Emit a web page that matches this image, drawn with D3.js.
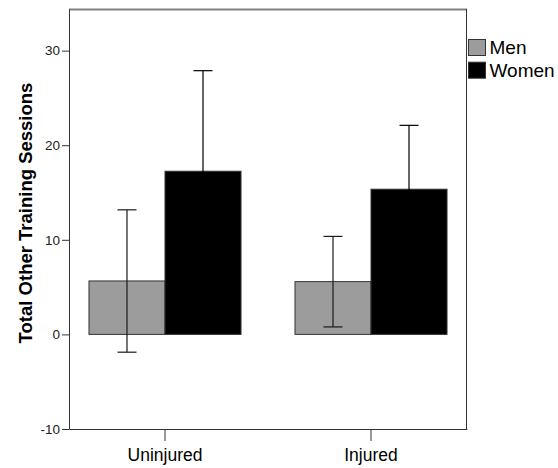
<!DOCTYPE html>
<html>
<head>
<meta charset="utf-8">
<script src="https://cdn.jsdelivr.net/npm/d3@7"></script>
<style>
  body { margin: 0; background: #fff; }
  text { font-family: "Liberation Sans", Arial, sans-serif; }
</style>
</head>
<body>
<div id="chart"></div>
<script>
// values
const categories = ["Uninjured", "Injured"];
const groups = ["Men", "Women"];
const means = [[5.65, 17.25], [5.58, 15.35]];
const errLow = [[-1.88, 6.6], [0.79, 8.6]];
const errHigh = [[13.17, 27.88], [10.36, 22.1]];
const yTicks = [-10, 0, 10, 20, 30];
const colors = { Men: "#9c9c9c", Women: "#000000" };

const width = 558, height = 468;
const plotLeft = 69, plotRight = 467, plotTop = 9, plotBottom = 429;

const svg = d3.select("#chart")
    .append("svg")
    .attr("width", width)
    .attr("height", height);

const x = d3.scaleBand()
    .domain(categories)
    .range([plotLeft, plotRight])
    .paddingInner(0.262)
    .paddingOuter(0.097);

const xInner = d3.scaleBand()
    .domain(groups)
    .range([0, x.bandwidth()]);

const y = d3.scaleLinear()
    .domain([-10, 34.4])
    .range([plotBottom, plotTop]);

// frame
svg.append("line")
    .attr("x1", plotLeft).attr("x2", plotRight)
    .attr("y1", plotTop + 0.5).attr("y2", plotTop + 0.5)
    .attr("stroke", "#808080").attr("stroke-width", 2);
svg.append("line")
    .attr("x1", plotRight - 0.5).attr("x2", plotRight - 0.5)
    .attr("y1", plotTop).attr("y2", plotBottom)
    .attr("stroke", "#333").attr("stroke-width", 1);

// bars
const rows = [];
categories.forEach((c, i) => {
    groups.forEach((g, j) => {
        rows.push({ cat: c, group: g, mean: means[i][j], lo: errLow[i][j], hi: errHigh[i][j] });
    });
});

svg.selectAll("rect.bar")
    .data(rows)
    .enter()
    .append("rect")
    .attr("class", "bar")
    .attr("x", d => x(d.cat) + xInner(d.group))
    .attr("width", xInner.bandwidth())
    .attr("y", d => y(Math.max(0, d.mean)))
    .attr("height", d => Math.abs(y(d.mean) - y(0)))
    .attr("fill", d => colors[d.group])
    .attr("stroke", "#333")
    .attr("stroke-width", 1);

// error bars
const capW = 19;
const eb = svg.selectAll("g.err")
    .data(rows)
    .enter()
    .append("g")
    .attr("class", "err")
    .attr("stroke", "#1a1a1a")
    .attr("stroke-width", 1.2);

eb.append("line")
    .attr("x1", d => x(d.cat) + xInner(d.group) + xInner.bandwidth() / 2)
    .attr("x2", d => x(d.cat) + xInner(d.group) + xInner.bandwidth() / 2)
    .attr("y1", d => y(d.lo))
    .attr("y2", d => y(d.hi));
eb.selectAll("line.cap")
    .data(d => [d.lo, d.hi].map(v => ({ v: v, cx: x(d.cat) + xInner(d.group) + xInner.bandwidth() / 2 })))
    .enter()
    .append("line")
    .attr("class", "cap")
    .attr("x1", d => d.cx - capW / 2)
    .attr("x2", d => d.cx + capW / 2)
    .attr("y1", d => y(d.v))
    .attr("y2", d => y(d.v));
// the part inside a black bar is not seen in the reference
eb.filter(d => d.group === "Women").attr("stroke", "#000");

// axes
const yAxis = svg.append("g")
    .attr("transform", `translate(${plotLeft},0)`)
    .call(d3.axisLeft(y).tickValues(yTicks).tickFormat(d => String(d))
        .tickSize(7).tickPadding(2).tickSizeOuter(0));
yAxis.select(".domain").attr("stroke", "#333");
yAxis.selectAll(".tick line").attr("stroke", "#333");
yAxis.selectAll(".tick text")
    .style("font-size", "13.5px")
    .attr("fill", "#222");

const xAxis = svg.append("g")
    .attr("transform", `translate(0,${plotBottom})`)
    .call(d3.axisBottom(x).tickSize(12).tickPadding(8).tickSizeOuter(0));
xAxis.select(".domain").attr("stroke", "#333");
xAxis.selectAll(".tick line").attr("stroke", "#333");
xAxis.selectAll(".tick text")
    .style("font-size", "17.5px")
    .attr("fill", "#000");

// y title
svg.append("text")
    .attr("transform", `translate(32, 213)rotate(-90)`)
    .attr("text-anchor", "middle")
    .style("font-size", "18.5px")
    .style("font-weight", "bold")
    .text("Total Other Training Sessions");

// legend
const legend = svg.selectAll("g.legend")
    .data(groups)
    .enter()
    .append("g")
    .attr("class", "legend")
    .attr("transform", (d, i) => `translate(468.5, ${39.5 + i * 22.7})`);
legend.append("rect")
    .attr("width", 17)
    .attr("height", 16)
    .attr("fill", d => colors[d])
    .attr("stroke", "#333");
legend.append("text")
    .attr("x", 21)
    .attr("y", 14.5)
    .style("font-size", "19px")
    .text(d => d);
</script>
</body>
</html>
